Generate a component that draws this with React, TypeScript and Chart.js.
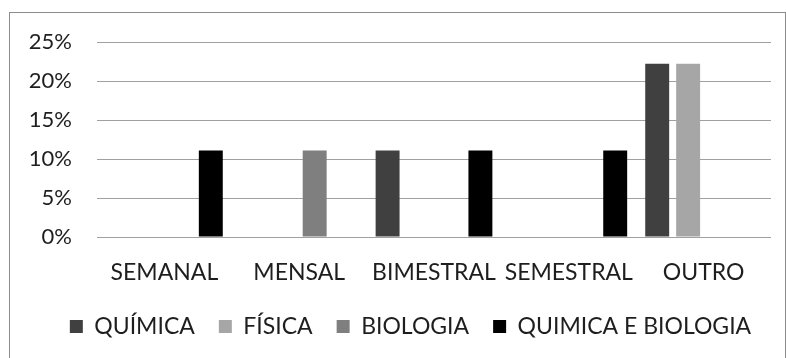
import { useEffect, useRef } from "react";
import { Chart, registerables } from "chart.js";

Chart.register(...registerables);

const categories = ["SEMANAL", "MENSAL", "BIMESTRAL", "SEMESTRAL", "OUTRO"];
const quimica = [0, 0, 11.1, 0, 22.2];
const fisica = [0, 0, 0, 0, 22.2];
const biologia = [0, 11.1, 0, 0, 0];
const quimicaEBiologia = [11.1, 0, 11.1, 11.1, 0];
const seriesNames = ["QUÍMICA", "FÍSICA", "BIOLOGIA", "QUIMICA E BIOLOGIA"];
const seriesColors = ["#404040", "#a6a6a6", "#7f7f7f", "#000000"];
const yMax = 25;
const yStep = 5;

const FONT = "Lato, 'Open Sans', sans-serif";
const TEXT = "#1e1e1e";

// Thin grey frame around the whole chart
const framePlugin = {
  id: "frame",
  beforeDraw(chart: Chart) {
    const ctx = chart.ctx;
    ctx.save();
    ctx.strokeStyle = "#8c8c8c";
    ctx.lineWidth = 1;
    ctx.strokeRect(9.5, 12.5, 776, 400);
    ctx.restore();
  },
};

// Nudge the legend row to the right after layout
const legendShift = {
  id: "legendShift",
  afterLayout(chart: any) {
    const lg = chart.legend;
    if (lg) {
      lg.left += 25;
      lg.right += 25;
    }
  },
};

export default function App() {
  const ref = useRef<HTMLCanvasElement | null>(null);

  useEffect(() => {
    if (!ref.current) return;
    const values = [quimica, fisica, biologia, quimicaEBiologia];
    const chart = new Chart(ref.current, {
      type: "bar",
      data: {
        labels: categories,
        datasets: values.map((data, i) => ({
          label: seriesNames[i],
          data,
          backgroundColor: seriesColors[i],
          borderWidth: 0,
          categoryPercentage: 0.918,
          barPercentage: 0.774,
        })),
      },
      options: {
        animation: false,
        responsive: true,
        maintainAspectRatio: false,
        layout: { padding: { top: 42, right: 15, bottom: 10, left: 0 } },
        plugins: {
          tooltip: { enabled: false },
          legend: {
            position: "bottom",
            labels: {
              boxWidth: 13,
              boxHeight: 13,
              padding: 24,
              color: TEXT,
              font: { family: FONT, size: 23 },
            },
          },
        },
        scales: {
          x: {
            grid: { display: false, drawTicks: false },
            border: { display: false },
            ticks: {
              padding: 22,
              color: TEXT,
              maxRotation: 0,
              autoSkip: false,
              font: { family: FONT, size: 23 },
            },
            afterFit(scale: any) {
              scale.height = 54;
            },
          },
          y: {
            min: 0,
            max: yMax,
            grid: { color: "#a0a0a0", lineWidth: 1, drawTicks: false },
            border: { display: false },
            ticks: {
              stepSize: yStep,
              padding: 25,
              color: TEXT,
              font: { family: FONT, size: 22 },
              callback: (v: any) => `${v}%`,
            },
            afterFit(scale: any) {
              scale.width = 97;
            },
          },
        },
      },
      plugins: [framePlugin, legendShift],
    });
    return () => chart.destroy();
  }, []);

  return (
    <div style={{ position: "fixed", left: 0, top: 0, width: 786, height: 358, background: "#fff" }}>
      <canvas ref={ref} />
    </div>
  );
}
